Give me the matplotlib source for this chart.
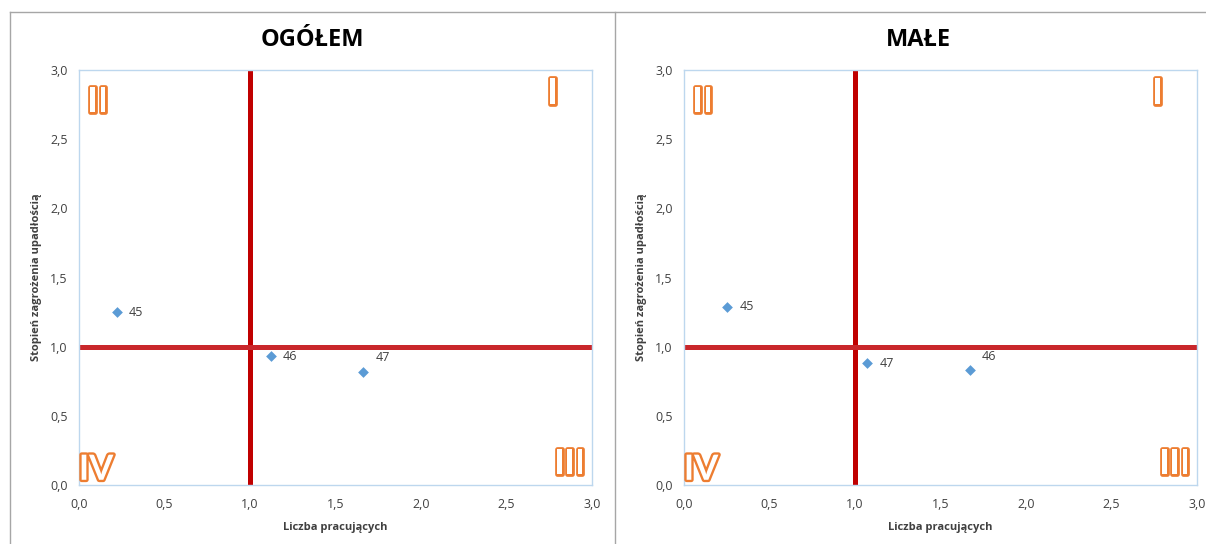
import matplotlib
matplotlib.use("Agg")
import matplotlib.pyplot as plt
import matplotlib.patheffects as pe
from matplotlib.lines import Line2D
from matplotlib.ticker import FuncFormatter, MultipleLocator

# Panel titles
titles = ["OGÓŁEM", "MAŁE"]

# Point labels (branch codes) and coordinates for each panel
labels_ogolem = ["45", "46", "47"]
x_ogolem = [0.22, 1.12, 1.66]
y_ogolem = [1.25, 0.93, 0.82]

labels_male = ["45", "47", "46"]
x_male = [0.25, 1.07, 1.67]
y_male = [1.29, 0.88, 0.83]

# Label placement per point: (dx, dy) in points
offsets_ogolem = [(9, 0), (9, 0), (9, 10)]
offsets_male = [(9, 0), (9, 0), (9, 10)]

# Quadrant dividers
x_split = 1.0
y_split = 1.0

x_title = "Liczba pracujących"
y_title = "Stopień zagrożenia upadłością"

FONT = "Open Sans"
plt.rcParams["font.family"] = [FONT, "DejaVu Sans"]

fig = plt.figure(figsize=(12.06, 5.44), dpi=100)

# Gray outer frames around both charts
frame_col = "#A6A6A6"
fig.add_artist(Line2D([10 / 1206, 1], [1 - 12 / 544, 1 - 12 / 544], color=frame_col, lw=1.0, transform=fig.transFigure))
fig.add_artist(Line2D([10 / 1206, 10 / 1206], [0, 1 - 12 / 544], color=frame_col, lw=1.0, transform=fig.transFigure))
fig.add_artist(Line2D([615 / 1206, 615 / 1206], [0, 1 - 12 / 544], color=frame_col, lw=1.0, transform=fig.transFigure))

comma = FuncFormatter(lambda v, p: f"{v:.1f}".replace(".", ","))

panels = [
    (titles[0], labels_ogolem, x_ogolem, y_ogolem, offsets_ogolem, 79, 312),
    (titles[1], labels_male, x_male, y_male, offsets_male, 684, 918),
]

roman = [("I", 2.77, 2.83), ("II", 0.11, 2.77), ("III", 2.87, 0.15), ("IV", 0.10, 0.11)]

for title, labs, xs, ys, offs, left_px, title_px in panels:
    ax = fig.add_axes([left_px / 1206, 1 - 485 / 544, 513 / 1206, 415 / 544])
    ax.set_xlim(0, 3)
    ax.set_ylim(0, 3)
    for s in ax.spines.values():
        s.set_color("#BDD7EE")
        s.set_linewidth(1.0)
    ax.xaxis.set_major_locator(MultipleLocator(0.5))
    ax.yaxis.set_major_locator(MultipleLocator(0.5))
    ax.xaxis.set_major_formatter(comma)
    ax.yaxis.set_major_formatter(comma)
    ax.tick_params(length=0, labelsize=9, colors="#404040")
    ax.tick_params(axis="y", pad=8)
    ax.tick_params(axis="x", pad=9)

    ax.axvline(x_split, color="#C00000", lw=3.6, zorder=2)
    ax.axhline(y_split, color="#C9272B", lw=3.6, zorder=2)

    ax.scatter(xs, ys, marker="D", s=30, color="#5B9BD5", zorder=3, linewidths=0)
    for lab, xv, yv, (dx, dy) in zip(labs, xs, ys, offs):
        ax.annotate(lab, (xv, yv), xytext=(dx, dy), textcoords="offset points",
                    fontsize=9, color="#404040", va="center", ha="left")

    for txt, rx, ry in roman:
        ax.text(rx, ry, txt, fontsize=25, fontweight="bold", color="white",
                ha="center", va="center", fontfamily="Lato",
                path_effects=[pe.Stroke(linewidth=3.4, foreground="#ED7D31"), pe.Normal()],
                zorder=4)

    fig.text(title_px / 1206, 1 - 40 / 544, title, fontsize=17, fontweight="bold",
             color="#000000", ha="center", va="center")
    ax.set_xlabel(x_title, fontsize=8, fontweight="bold", color="#404040", labelpad=8)
    ax.set_ylabel(y_title, fontsize=8, fontweight="bold", color="#404040", labelpad=6)

fig.savefig("out.png", dpi=100, facecolor="white")
